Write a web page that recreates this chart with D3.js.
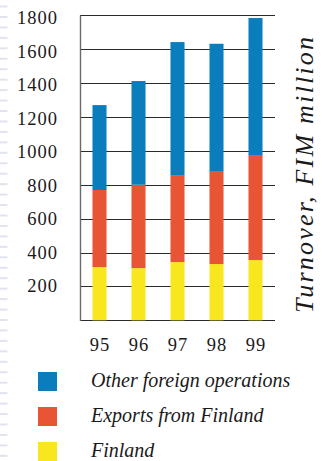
<!DOCTYPE html>
<html>
<head>
<meta charset="utf-8">
<script src="https://cdn.jsdelivr.net/npm/d3@7"></script>
<style>
  html, body { margin: 0; padding: 0; background: #fff; }
  svg { display: block; }
</style>
</head>
<body>
<svg id="chart" width="322" height="461"></svg>
<script>
// Turnover by year, FIM million, split into three stacked segments
const years = ["95", "96", "97", "98", "99"];
const finland = [314, 308, 344, 332, 356];
const exportsFromFinland = [455, 492, 513, 549, 615];
const otherForeign = [501, 612, 785, 751, 813];

const seriesNames = ["Finland", "Exports from Finland", "Other foreign operations"];
const seriesColors = ["#f8e61f", "#e85535", "#0a7dbc"];
const yTicks = [200, 400, 600, 800, 1000, 1200, 1400, 1600, 1800];
const axisTitle = "Turnover, FIM million";

const serif = "Liberation Serif, Times New Roman, serif";
const ink = "#1a1a1a";

const rows = years.map((yr, i) => ({
  year: yr,
  "Finland": finland[i],
  "Exports from Finland": exportsFromFinland[i],
  "Other foreign operations": otherForeign[i]
}));

const svg = d3.select("#chart");

// decorative dashed strip along the left edge
const strip = svg.append("g");
for (let yy = 5.5; yy < 461; yy += 10.45) {
  strip.append("rect").attr("x", 0).attr("y", yy).attr("width", 7.5).attr("height", 2)
    .attr("fill", "#dfe5ee");
}

const plotLeft = 80, plotRight = 275, plotTop = 15.3, plotBottom = 320.3;

const x = d3.scaleBand().domain(years).range([plotLeft, plotRight])
  .paddingInner(0.64).paddingOuter(0.32);
const y = d3.scaleLinear().domain([0, 1800]).range([plotBottom, plotTop]);

// horizontal gridlines
svg.append("g")
  .selectAll("line").data(yTicks.concat([0])).join("line")
  .attr("x1", plotLeft).attr("x2", plotRight)
  .attr("y1", d => Math.round(y(d)) + 0.5).attr("y2", d => Math.round(y(d)) + 0.5)
  .attr("stroke", "#2b2b2b").attr("stroke-width", 1);

// left spine
svg.append("line")
  .attr("x1", plotLeft + 0.5).attr("x2", plotLeft + 0.5)
  .attr("y1", Math.round(y(1800)) + 0.5).attr("y2", Math.round(y(0)) + 1)
  .attr("stroke", "#6a6a6a").attr("stroke-width", 1.4);

// stacked bars
const stack = d3.stack().keys(seriesNames)(rows);
svg.append("g")
  .selectAll("g").data(stack).join("g")
  .attr("fill", (d, i) => seriesColors[i])
  .selectAll("rect").data(d => d).join("rect")
  .attr("x", d => x(d.data.year))
  .attr("width", x.bandwidth())
  .attr("y", d => y(d[1]))
  .attr("height", d => y(d[0]) - y(d[1]));

// y tick labels
svg.append("g")
  .selectAll("text").data(yTicks).join("text")
  .attr("x", 58).attr("y", d => y(d))
  .attr("dy", d => 6 + (d - 200) / 1600 * 3)
  .attr("text-anchor", "end")
  .attr("font-family", serif).attr("fill", ink)
  .attr("font-size", 18.5).attr("letter-spacing", 1)
  .text(d => d);

// x tick labels
svg.append("g")
  .selectAll("text").data(years).join("text")
  .attr("x", d => x(d) + x.bandwidth() / 2 + 0.5)
  .attr("y", 351)
  .attr("text-anchor", "middle")
  .attr("font-family", serif).attr("fill", ink)
  .attr("font-size", 18.5).attr("letter-spacing", 1)
  .text(d => d);

// axis title on the right
svg.append("text")
  .attr("transform", "translate(313,175) rotate(-90)")
  .attr("text-anchor", "middle")
  .attr("font-family", serif).attr("fill", ink)
  .attr("font-style", "italic")
  .attr("font-size", 26)
  .attr("textLength", 276).attr("lengthAdjust", "spacing")
  .text(axisTitle);

// legend, top entry first
const legendOrder = [2, 1, 0];
const legend = svg.append("g")
  .selectAll("g").data(legendOrder).join("g")
  .attr("transform", (d, i) => `translate(38,${372 + i * 35})`);
legend.append("rect")
  .attr("width", 19).attr("height", 19)
  .attr("fill", d => seriesColors[d]);
legend.append("text")
  .attr("x", 53).attr("y", 15)
  .attr("font-family", serif).attr("fill", ink)
  .attr("font-style", "italic").attr("font-size", 20)
  .text(d => seriesNames[d]);
</script>
</body>
</html>
